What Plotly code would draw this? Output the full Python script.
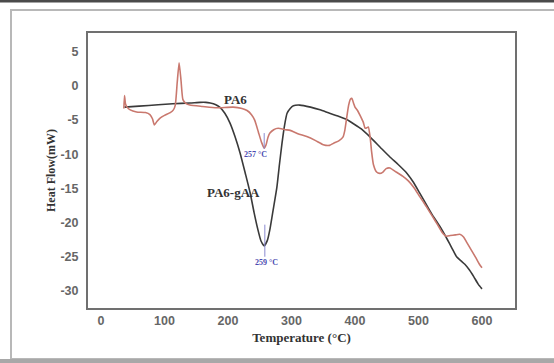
import plotly.graph_objects as go

# PA6 (red) curve
pa6_T = [36, 37, 38.5, 41, 46, 56, 70, 77, 81, 84, 88, 93, 100, 109, 114, 117, 120, 123, 126, 129, 134, 140,
         160, 182, 208, 222, 230, 237, 242, 248, 253, 257, 260, 263, 266, 272, 279, 290, 298, 310, 324, 338, 350,
         360, 366, 375, 381, 384, 387, 390, 393, 395, 398, 400, 404, 408, 413, 416, 419, 421, 424, 426, 429,
         434, 439, 444, 449, 455, 465, 475, 484, 493, 502, 512, 522, 530, 537, 544, 550, 558, 565, 571, 576,
         583, 590, 596, 600]
pa6_y = [-3.3, -1.4, -2.6, -3.1, -3.5, -3.8, -3.9, -4.2, -4.8, -5.7, -5.2, -4.7, -4.3, -3.9, -3.5, -2.8, 0.5, 3.4,
         0.8, -2.0, -2.6, -2.8, -3.0, -3.2, -3.1, -3.3, -3.6, -4.2, -5.0, -6.8, -8.3, -9.1, -8.6, -7.5, -6.9,
         -6.4, -6.2, -6.4, -6.5, -7.0, -7.4, -8.0, -8.6, -8.7, -8.4, -8.0, -7.5, -6.5, -4.6, -2.8, -1.9, -1.8,
         -2.6, -3.1, -3.6, -4.3, -5.3, -6.2, -6.1, -6.0, -7.6, -9.5, -11.5, -12.6, -12.8, -12.6, -12.1, -12.0,
         -12.6, -13.2, -13.9, -14.9, -16.2, -17.6, -19.1, -20.3, -21.4, -22.0, -21.9, -21.8, -21.7, -22.1,
         -22.9, -24.0, -25.1, -26.1, -26.6]

# PA6-gAA (black) curve
gaa_T = [37, 60, 90, 113, 140, 156, 165, 172, 180, 187, 195, 203, 211, 219, 227, 235, 241, 247, 252, 257,
         262, 266, 271, 277, 281, 285, 289, 293, 298, 303, 313, 330, 345, 360, 376, 387, 397, 410, 424, 440,
         455, 468, 482, 492, 502, 512, 522, 534, 545, 553, 560, 567, 573, 580, 587, 594, 600]
gaa_y = [-3.1, -2.95, -2.75, -2.6, -2.5, -2.4, -2.4, -2.5, -2.7, -3.1, -4.0, -5.4, -7.4, -9.8, -12.7, -15.7,
         -18.5, -21.0, -22.7, -23.4, -22.6, -21.0, -18.2, -14.8, -11.5, -8.4, -5.8, -4.0, -3.3, -2.9, -2.8,
         -3.1, -3.5, -4.0, -4.5, -4.9, -5.5, -6.3, -7.5, -9.0, -10.4, -11.5, -12.8, -14.1, -15.7, -17.3, -18.9,
         -20.6, -22.4, -23.8, -25.0, -25.6, -26.1, -26.9, -27.9, -29.0, -29.7]

x_ticks = [0, 100, 200, 300, 400, 500, 600]
x_tick_labels = ["0", "100", "200", "300", "400", "500", "600"]
y_ticks = [5, 0, -5, -10, -15, -20, -25, -30]
y_tick_labels = ["5", "0", "-5", "-10", "-15", "-20", "-25", "-30"]

# peak annotations
peak_labels = ["257 °C", "259 °C"]
peak_label_T = [244, 260]
peak_label_y = [-10.1, -25.8]
peak_line_T = [[257, 257], [258, 258]]
peak_line_y = [[-6.9, -9.2], [-20.3, -25.0]]

curve_labels = ["PA6", "PA6-gAA"]
curve_label_T = [212, 209]
curve_label_y = [-2.0, -15.6]

fig = go.Figure()
fig.add_trace(go.Scatter(x=gaa_T, y=gaa_y, mode="lines", line=dict(color="#3a3a3a", width=1.6, shape="spline", smoothing=0.5),
                         showlegend=False, hoverinfo="skip"))
fig.add_trace(go.Scatter(x=pa6_T, y=pa6_y, mode="lines", line=dict(color="#c9786e", width=1.6, shape="spline", smoothing=0.5),
                         showlegend=False, hoverinfo="skip"))
for lx, ly in zip(peak_line_T, peak_line_y):
    fig.add_trace(go.Scatter(x=lx, y=ly, mode="lines", line=dict(color="#8a8ad0", width=1),
                             showlegend=False, hoverinfo="skip"))

for t, x, y in zip(peak_labels, peak_label_T, peak_label_y):
    fig.add_annotation(x=x, y=y, text="<b>" + t + "</b>", showarrow=False,
                       font=dict(family="Liberation Serif", size=8, color="#4a4ab0"))
for t, x, y in zip(curve_labels, curve_label_T, curve_label_y):
    fig.add_annotation(x=x, y=y, text="<b>" + t + "</b>", showarrow=False,
                       font=dict(family="Liberation Serif", size=13, color="#333333"))

L, R, T_, B = 88, 39, 33, 55
W, H = 554, 363
pw, ph = W - L - R, H - T_ - B

def px(xp):
    return (xp - L) / pw

def py(yp):
    return (H - B - yp) / ph

shapes = [
    # outer frame
    dict(type="rect", xref="paper", yref="paper", x0=px(11), x1=px(620), y0=py(359), y1=py(10),
         line=dict(color="#b8b8b8", width=2), fillcolor="rgba(0,0,0,0)", layer="below"),
    # bottom grey band
    dict(type="rect", xref="paper", yref="paper", x0=px(-5), x1=px(600), y0=py(366), y1=py(359),
         line=dict(width=0), fillcolor="#a8a8a8", layer="below"),
    # top dark strip
    dict(type="rect", xref="paper", yref="paper", x0=px(-5), x1=px(600), y0=py(2.5), y1=py(-5),
         line=dict(width=0), fillcolor="#4a4a4a", layer="below"),
]

tick_font = dict(family="Liberation Sans", size=12.5, color="#666666", weight="bold")

fig.update_layout(
    width=W, height=H,
    margin=dict(l=L, r=R, t=T_, b=B, pad=0),
    paper_bgcolor="white", plot_bgcolor="white",
    shapes=shapes,
    xaxis=dict(range=[-20.5, 652], tickvals=x_ticks, ticktext=x_tick_labels, ticks="", showgrid=False, zeroline=False,
               showline=True, mirror=True, linecolor="#707070", linewidth=2, ticklabelstandoff=0,
               tickfont=tick_font,
               title=dict(text="<b>Temperature (°C)</b>", standoff=6,
                          font=dict(family="Liberation Serif", size=13, color="#333333"))),
    yaxis=dict(range=[-32.5, 7.75], tickvals=y_ticks, ticktext=y_tick_labels, ticks="", showgrid=False, zeroline=False,
               showline=True, mirror=True, linecolor="#707070", linewidth=2, ticklabelstandoff=5,
               tickfont=tick_font,
               title=dict(text="<b>Heat Flow(mW)</b>", standoff=2,
                          font=dict(family="Liberation Serif", size=12, color="#333333"))),
)

fig.write_html("out.html")
